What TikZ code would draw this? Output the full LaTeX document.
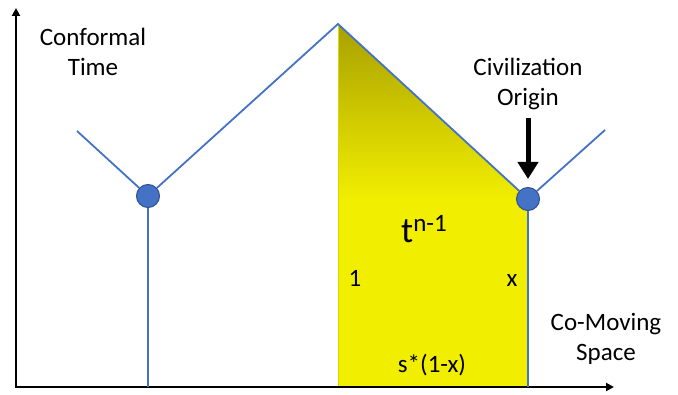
\documentclass[tikz,border=0pt]{standalone}
\usepackage{fontspec}
\setmainfont{Carlito}
\usetikzlibrary{positioning,arrows.meta,calc}
\definecolor{worldblue}{RGB}{68,114,196}
\definecolor{dotrim}{RGB}{47,82,143}
\definecolor{shadetop}{RGB}{168,160,0}
\definecolor{shadelow}{RGB}{242,238,0}

\begin{document}
\begin{tikzpicture}[x=1pt,y=-1pt,>={Triangle[length=8pt,width=8pt]},
  worldline/.style={worldblue,line width=1.8pt},
  event/.style={circle,fill=worldblue,draw=dotrim,line width=1pt,inner sep=0pt,minimum size=23pt},
  lbl/.style={font=\fontsize{25}{30}\selectfont,align=center,inner sep=0pt}]
\useasboundingbox (0,0) rectangle (678,395);
\coordinate (orig) at (16,387);
\coordinate (tend) at (16,8);
\coordinate (send) at (614,387);
\coordinate (apex) at (338,24);
\coordinate (corner) at (528,199);
\coordinate (lend) at (77,131);
\coordinate (rend) at (605,130);
\coordinate (foot1) at (148,387);
\coordinate (foot2) at (528,387);
\coordinate (foot0) at (338,387);
% shaded region under the light cone
\fill[shadelow] (apex) -- (corner) -- (foot2) -- (foot0) -- cycle;
\begin{scope}
  \clip (apex) -- (corner) -- (foot2) -- (foot0) -- cycle;
  \shade[top color=shadetop,bottom color=shadelow] (338,24) rectangle (528,200);
\end{scope}
\draw[shadelow!90!black,line width=1pt] (apex) -- (foot0);
\node[event] (ev1) at (148,196) {};
\node[event] (ev2) at (corner) {};
% axes
\draw[line width=2pt,<->] (tend) -- (orig) -- (send);
% world lines
\draw[worldline] (lend) -- (ev1) -- (apex) -- (ev2) -- (rend);
\draw[worldline] (ev1) -- (foot1);
\draw[worldline] (ev2) -- (foot2);
% labels
\node[lbl] (ctime) at (93,52) {Conformal\\Time};
\node[lbl] (civ) at (528,84) {Civilization\\Origin};
\node[lbl] (space) at (606,339) {Co-Moving\\Space};
\node[inner sep=0pt,anchor=base] (power) at (424,243)
  {\fontsize{36}{40}\selectfont t\raisebox{11pt}{\fontsize{25}{30}\selectfont n-1}};
\node[lbl,anchor=base] (one) at (355,287) {1};
\node[lbl,anchor=base] (xval) at (512,287) {x};
\node[lbl,anchor=base] (width) at (432,373) {s*(1-x)};
\draw[line width=5pt,-{Triangle[width=20pt,length=17pt]},shorten <=8pt,shorten >=8pt]
  (civ.south) -- (ev2.north);
\end{tikzpicture}
\end{document}
